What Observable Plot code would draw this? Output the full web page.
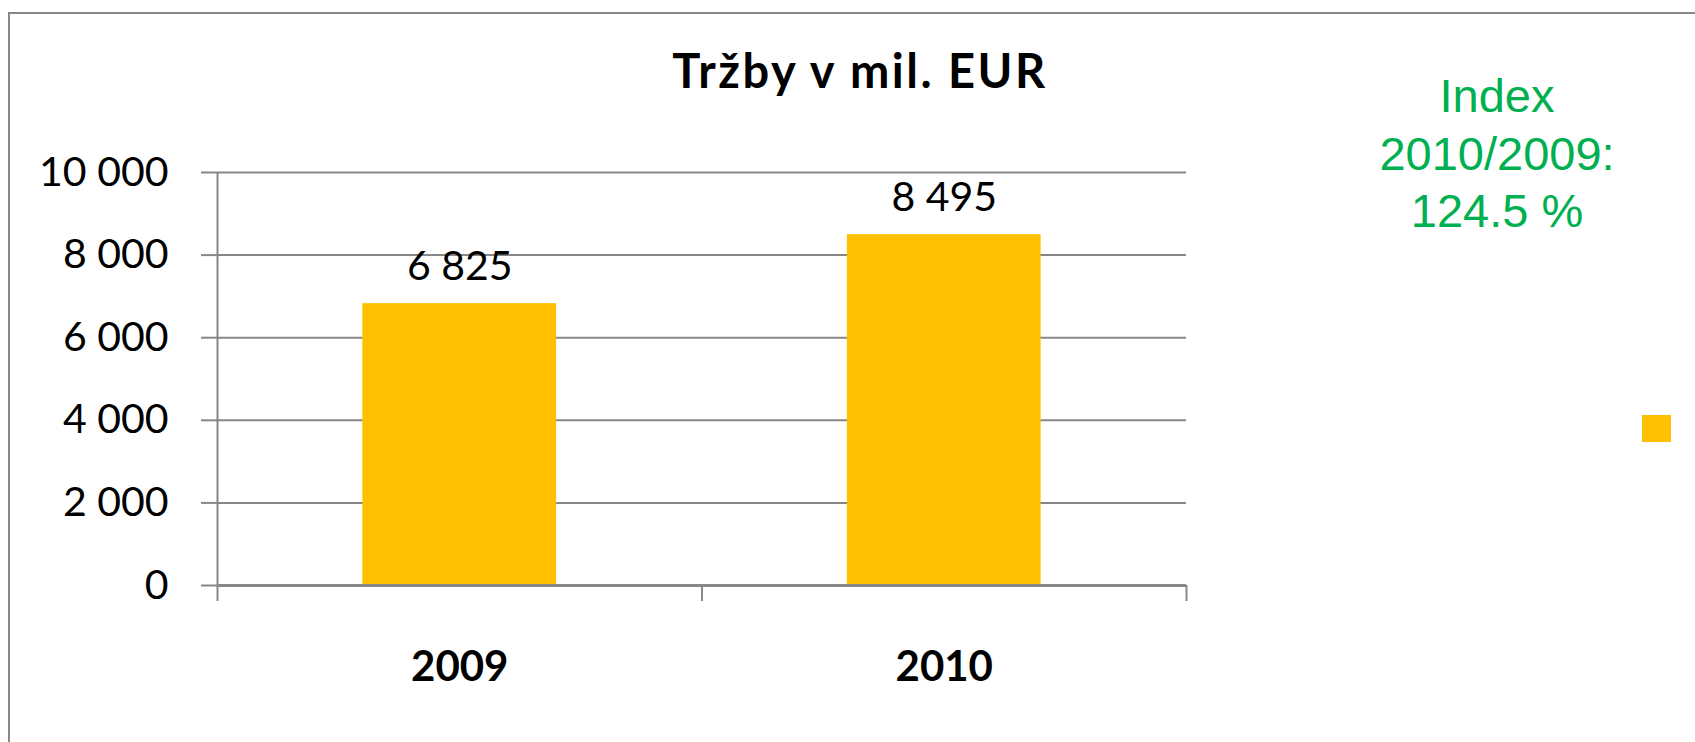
<!DOCTYPE html>
<html>
<head>
<meta charset="utf-8">
<script src="https://cdn.jsdelivr.net/npm/d3@7"></script>
<script src="https://cdn.jsdelivr.net/npm/@observablehq/plot@0.6"></script>
<style>
  html, body { margin: 0; padding: 0; background: #fff; overflow: hidden; }
  #wrap { position: relative; width: 1695px; height: 742px; overflow: hidden; }
  #border { position: absolute; left: 8px; top: 12px; width: 2000px; height: 2000px; border: 2px solid #878787; pointer-events: none; }
  #title { position: absolute; left: 860px; top: 47px; transform: translateX(-50%); font-family: Lato, sans-serif; font-weight: bold; font-size: 47px; line-height: 47px; letter-spacing: 2.5px; white-space: nowrap; color: #000; }
  #index { position: absolute; left: 1497px; top: 67px; transform: translateX(-50%); font-family: "Liberation Sans", Arial, sans-serif; font-size: 47px; line-height: 57.5px; color: #00B050; text-align: center; white-space: nowrap; }
  #legendSwatch { position: absolute; left: 1642px; top: 415px; width: 29px; height: 27px; background: #FFC000; }
</style>
</head>
<body>
<div id="wrap"></div>
<script>
const years = ["2009", "2010"];
const sales = [6825, 8495];
const yTicks = [0, 2000, 4000, 6000, 8000, 10000];
const titleText = "Tržby v mil. EUR";
const indexLines = ["Index", "2010/2009:", "124.5 %"];
const barColor = "#FFC000";

const data = years.map((year, i) => ({i, year, value: sales[i]}));
const fmt = d => d3.format(",")(d).replace(/,/g, " ");
const gray = "#878787";

const chart = Plot.plot({
  width: 1695,
  height: 742,
  marginLeft: 217,
  marginRight: 509,
  marginTop: 172,
  marginBottom: 157,
  x: {domain: [0, years.length], axis: null, label: null},
  y: {domain: [0, 10000], axis: null, label: null},
  style: {fontFamily: "Lato, sans-serif", fontSize: "41px", color: "black", background: "transparent", overflow: "visible"},
  marks: [
    Plot.gridY(yTicks, {stroke: gray, strokeOpacity: 1, strokeWidth: 2}),
    Plot.axisY({ticks: yTicks, tickSize: 16, tickPadding: 33, tickFormat: fmt, stroke: gray, strokeWidth: 2, fill: "black", fontSize: 41, label: null}),
    Plot.axisX({ticks: d3.range(years.length + 1), tickSize: 16, tickFormat: () => "", stroke: gray, strokeWidth: 2, label: null}),
    Plot.ruleX([0], {y1: 0, y2: 10000, stroke: gray, strokeWidth: 2}),
    Plot.rectY(data, {x1: d => d.i + 0.3, x2: d => d.i + 0.7, y: "value", fill: barColor}),
    Plot.ruleY([0], {stroke: gray, strokeWidth: 3}),
    Plot.axisX({ticks: years.map((_, i) => i + 0.5), tickSize: 0, tickPadding: 66, tickFormat: v => years[Math.floor(v)], fontWeight: "bold", fontSize: 42, fill: "black", label: null}),
    Plot.text(data, {x: d => d.i + 0.5, y: "value", text: d => fmt(d.value), dy: -24, lineAnchor: "bottom", fontSize: 41, fill: "black"})
  ]
});

const wrap = document.getElementById("wrap");
wrap.appendChild(chart);

const title = document.createElement("div");
title.id = "title";
title.textContent = titleText;
wrap.appendChild(title);

const idx = document.createElement("div");
idx.id = "index";
idx.innerHTML = indexLines.map(s => s.replace(/&/g, "&amp;").replace(/</g, "&lt;")).join("<br>");
wrap.appendChild(idx);

const sw = document.createElement("div");
sw.id = "legendSwatch";
wrap.appendChild(sw);

const border = document.createElement("div");
border.id = "border";
wrap.appendChild(border);
</script>
</body>
</html>
